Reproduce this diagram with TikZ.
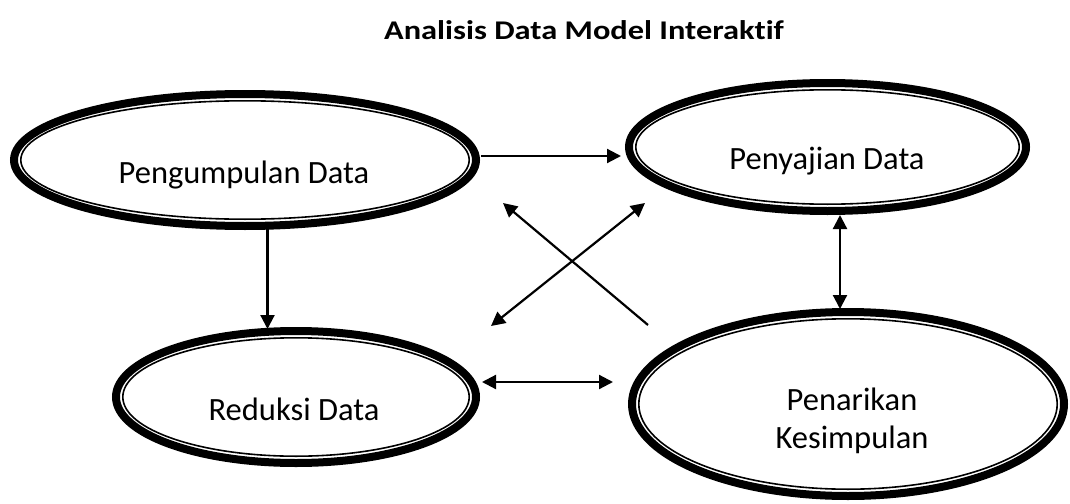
\documentclass[tikz,border=0pt]{standalone}
\usepackage{fontspec}
\setmainfont[Ligatures=NoCommon]{Carlito}
\newfontfamily\headfont[Ligatures=NoCommon, FakeStretch=1.2]{Carlito}
\usetikzlibrary{arrows.meta,shapes.geometric,calc}

\tikzset{
  x=1pt, y=-1pt,
  % thick outer ring of the double (thick-thin) ellipse outline
  outerring/.style={ellipse, draw=black, line width=8pt, inner sep=0pt,
    outer sep=0pt, fill=white},
  % thin inner ring
  innerring/.style={draw=black, line width=1.6pt},
  label text/.style={font=\fontsize{32.5}{38}\selectfont, anchor=base, inner sep=0pt},
  title text/.style={font=\headfont\fontsize{27}{30}\selectfont\bfseries, anchor=base, inner sep=0pt},
  tip/.style={Triangle[length=14pt,width=14pt]},
  flow/.style={line width=2.2pt, -{Triangle[length=14pt,width=14pt]}},
  twoway/.style={line width=2.2pt, {Triangle[length=14pt,width=14pt]}-{Triangle[length=14pt,width=14pt]}},
}

\begin{document}
\begin{tikzpicture}
\useasboundingbox (0,0) rectangle (1070,503);

% title
\node[title text] (title) at (584,40) {Analisis Data Model Interaktif};

% ellipses: outer radius minus half the thick line width
\node[outerring, minimum width=462pt, minimum height=132pt] (pd) at (245,160) {};
\draw[innerring] (pd.center) ellipse [x radius=224.2pt, y radius=59.2pt];
\node[label text] (pdt) at (244,183) {Pengumpulan Data};

\node[outerring, minimum width=397pt, minimum height=128pt] (ps) at (827.5,147) {};
\draw[innerring] (ps.center) ellipse [x radius=191.7pt, y radius=57.2pt];
\node[label text] (pst) at (827,169) {Penyajian Data};

\node[outerring, minimum width=360pt, minimum height=132pt] (rd) at (296,397) {};
\draw[innerring] (rd.center) ellipse [x radius=173.2pt, y radius=59.2pt];
\node[label text] (rdt) at (294,420) {Reduksi Data};

\node[outerring, minimum width=432pt, minimum height=184pt] (pk) at (848,404) {};
\draw[innerring] (pk.center) ellipse [x radius=209.2pt, y radius=85.2pt];
\node[label text] (pkt1) at (852,410) {Penarikan};
\node[label text] (pkt2) at (852,448) {Kesimpulan};

% connector end points
\coordinate (pdR) at (481,156);
\coordinate (psL) at (621,156);
\coordinate (pdB) at (267.5,222);
\coordinate (rdT) at (267.5,329);
\coordinate (rdR) at (482,382);
\coordinate (pkL) at (613,382);
\coordinate (psB) at (840,215);
\coordinate (pkT) at (840,309);
\coordinate (xA1) at (648,325);
\coordinate (xA2) at (503,203);
\coordinate (xB1) at (491,326);
\coordinate (xB2) at (645,203);

% connectors
\draw[flow] (pdR) -- (psL);
\draw[flow] (pdB) -- (rdT);
\draw[twoway] (rdR) -- (pkL);
\draw[twoway] (psB) -- (pkT);
\draw[flow] (xA1) -- (xA2);
\draw[twoway] (xB1) -- (xB2);
\end{tikzpicture}
\end{document}
